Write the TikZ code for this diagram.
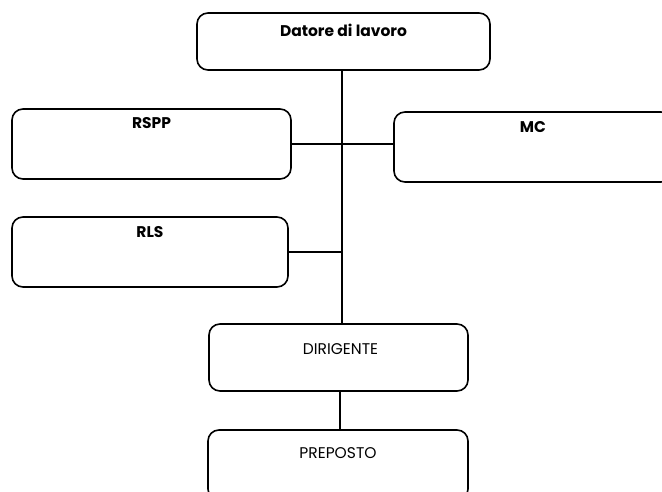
\documentclass[tikz,border=0pt]{standalone}
\usepackage{fontspec}
\setmainfont{Poppins}
\begin{document}
\begin{tikzpicture}[x=1pt,y=1pt,
  box/.style={draw=black, line width=1.6pt, rounded corners=11pt, minimum width=#1, inner sep=0pt, fill=white},
  hd/.style={font=\fontsize{15.5}{18}\selectfont\bfseries, anchor=center},
  tx/.style={font=\fontsize{15.5}{18}\selectfont, anchor=center},
  link/.style={draw=black, line width=1.2pt}]
\useasboundingbox[fill=white] (0,0) rectangle (662,492);
% boxes
\node[box=293pt, minimum height=57pt] (datore) at (343.5,450.5) {};
\node[box=279pt, minimum height=70pt] (rspp) at (151.5,348) {};
\node[box=278pt, minimum height=70pt] (mc) at (533,345) {};
\node[box=276pt, minimum height=70pt] (rls) at (150,240) {};
\node[box=259pt, minimum height=67pt] (dirigente) at (338.5,134.5) {};
\node[box=260pt, minimum height=70pt] (preposto) at (338,27) {};
% labels
\node[hd] (tdatore) at ([yshift=-18pt]datore.north) {Datore di lavoro};
\node[hd] (trspp) at ([yshift=-15pt]rspp.north) {RSPP};
\node[hd] (tmc) at ([yshift=-16pt]mc.north) {MC};
\node[hd] (trls) at ([yshift=-16pt]rls.north) {RLS};
\node[tx] (tdir) at ([xshift=2pt,yshift=-26pt]dirigente.north) {DIRIGENTE};
\node[tx] (tprep) at ([yshift=-24pt]preposto.north) {PREPOSTO};
% connectors
\coordinate (spine) at (342,300);
\draw[link] (datore.south -| spine) -- (dirigente.north -| spine);
\draw[link] (rspp.east) -- (rspp.east -| mc.west);
\draw[link] (rls.east) -- (rls.east -| spine);
\draw[link] (dirigente.south -| 340,0) -- (preposto.north -| 340,0);
\end{tikzpicture}
\end{document}
